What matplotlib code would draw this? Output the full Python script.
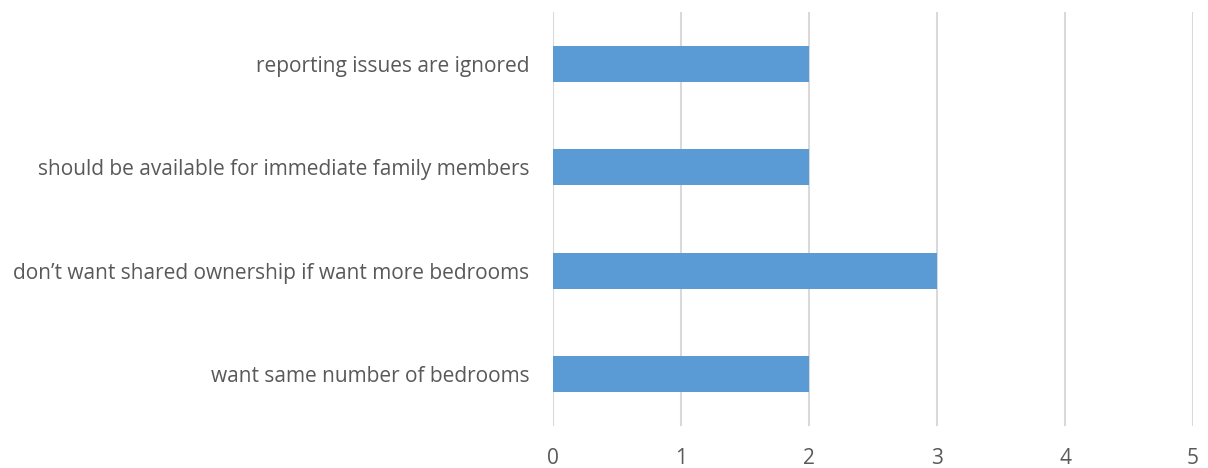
import matplotlib
matplotlib.use("Agg")
import matplotlib.pyplot as plt

categories = [
    "want same number of bedrooms",
    "don\u2019t want shared ownership if want more bedrooms",
    "should be available for immediate family members",
    "reporting issues are ignored",
]
counts = [2, 3, 2, 2]
xticks = [0, 1, 2, 3, 4, 5]

plt.rcParams['font.family'] = ['Open Sans', 'DejaVu Sans']
text_color = '#595959'

fig = plt.figure(figsize=(12.08, 4.68), dpi=100)
ax = fig.add_axes([0.4578, 0.0897, 0.5298, 0.8847])

ypos = list(range(len(categories)))
ax.barh(ypos, counts, height=0.35, color='#5b9bd5', zorder=3)

ax.set_xlim(0, 5)
ax.set_ylim(-0.5, 3.5)
ax.set_xticks(xticks)
ax.set_yticks(ypos)
ax.set_yticklabels(categories)
ax.grid(axis='x', color='#d9d9d9', linewidth=1.5, zorder=0)
ax.set_axisbelow(True)

for side in ['top', 'right', 'bottom', 'left']:
    ax.spines[side].set_visible(False)

ax.tick_params(axis='x', length=0, pad=16, labelsize=15, labelcolor=text_color)
ax.tick_params(axis='y', length=0, pad=17, labelsize=15, labelcolor=text_color)

fig.savefig('out.png', dpi=100)
